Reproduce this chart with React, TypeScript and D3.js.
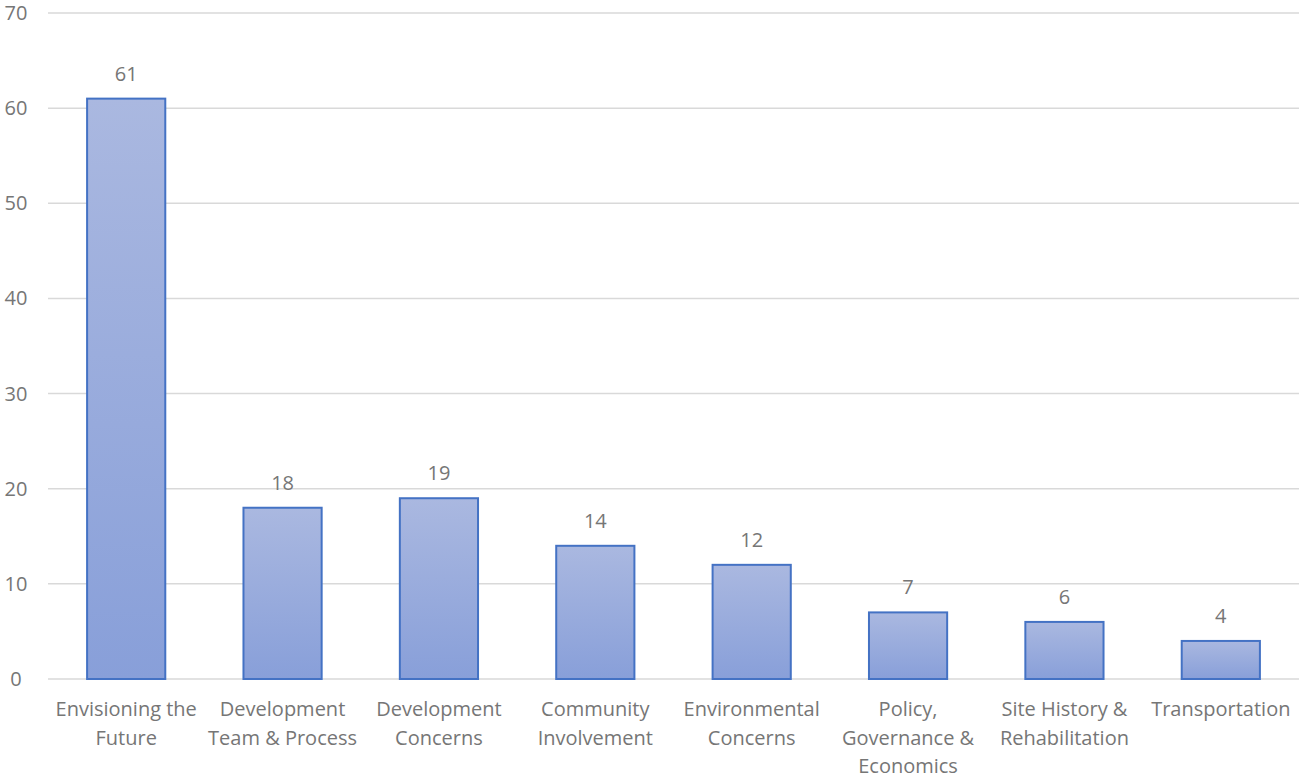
import React from "react";
import * as d3 from "d3";

const categories: string[][] = [
  ["Envisioning the", "Future"],
  ["Development", "Team & Process"],
  ["Development", "Concerns"],
  ["Community", "Involvement"],
  ["Environmental", "Concerns"],
  ["Policy,", "Governance &", "Economics"],
  ["Site History &", "Rehabilitation"],
  ["Transportation"],
];
const values: number[] = [61, 18, 19, 14, 12, 7, 6, 4];
const yTicks: number[] = [0, 10, 20, 30, 40, 50, 60, 70];

const W = 1299;
const H = 778;
const left = 48;
const right = 1299;
const top = 13;
const bottom = 679;
const font = "'Open Sans', sans-serif";
const textColor = "#767676";
const fs = 20;

export default function App() {
  const keys = categories.map((_, i) => String(i));
  const x = d3.scaleBand<string>().domain(keys).range([left, right]).paddingInner(0.5).paddingOuter(0.25);
  const y = d3.scaleLinear().domain([0, 70]).range([bottom, top]);
  return (
    <svg width={W} height={H} style={{ position: "absolute", left: 0, top: 0 }}>
      <defs>
        {values.map((v, i) => (
          <linearGradient key={i} id={`g${i}`} x1="0" y1="0" x2="0" y2="1">
            <stop offset="0" stopColor="#AAB8E0" />
            <stop offset="1" stopColor="#889FD9" />
          </linearGradient>
        ))}
      </defs>
      {yTicks.map((t) => (
        <g key={t}>
          <line x1={left} x2={right} y1={y(t)} y2={y(t)} stroke="#D9D9D9" strokeWidth={1.5} />
          <text x={16} y={y(t)} dy="0.35em" textAnchor="middle" fontFamily={font} fontSize={fs} fill={textColor}>
            {t}
          </text>
        </g>
      ))}
      {values.map((v, i) => {
        const bx = x(String(i))!;
        const bw = x.bandwidth();
        return (
          <g key={i}>
            <rect x={bx} y={y(v)} width={bw} height={y(0) - y(v)} fill={`url(#g${i})`} stroke="#4472C4" strokeWidth={2} />
            <text x={bx + bw / 2} y={y(v) - 18} textAnchor="middle" fontFamily={font} fontSize={fs} fill={textColor}>
              {v}
            </text>
          </g>
        );
      })}
      {categories.map((lines, i) => {
        const cx = x(String(i))! + x.bandwidth() / 2;
        return (
          <text key={i} textAnchor="middle" fontFamily={font} fontSize={fs} fill={textColor}>
            {lines.map((l, j) => (
              <tspan key={j} x={cx} y={716 + j * 28.5}>
                {l}
              </tspan>
            ))}
          </text>
        );
      })}
    </svg>
  );
}
